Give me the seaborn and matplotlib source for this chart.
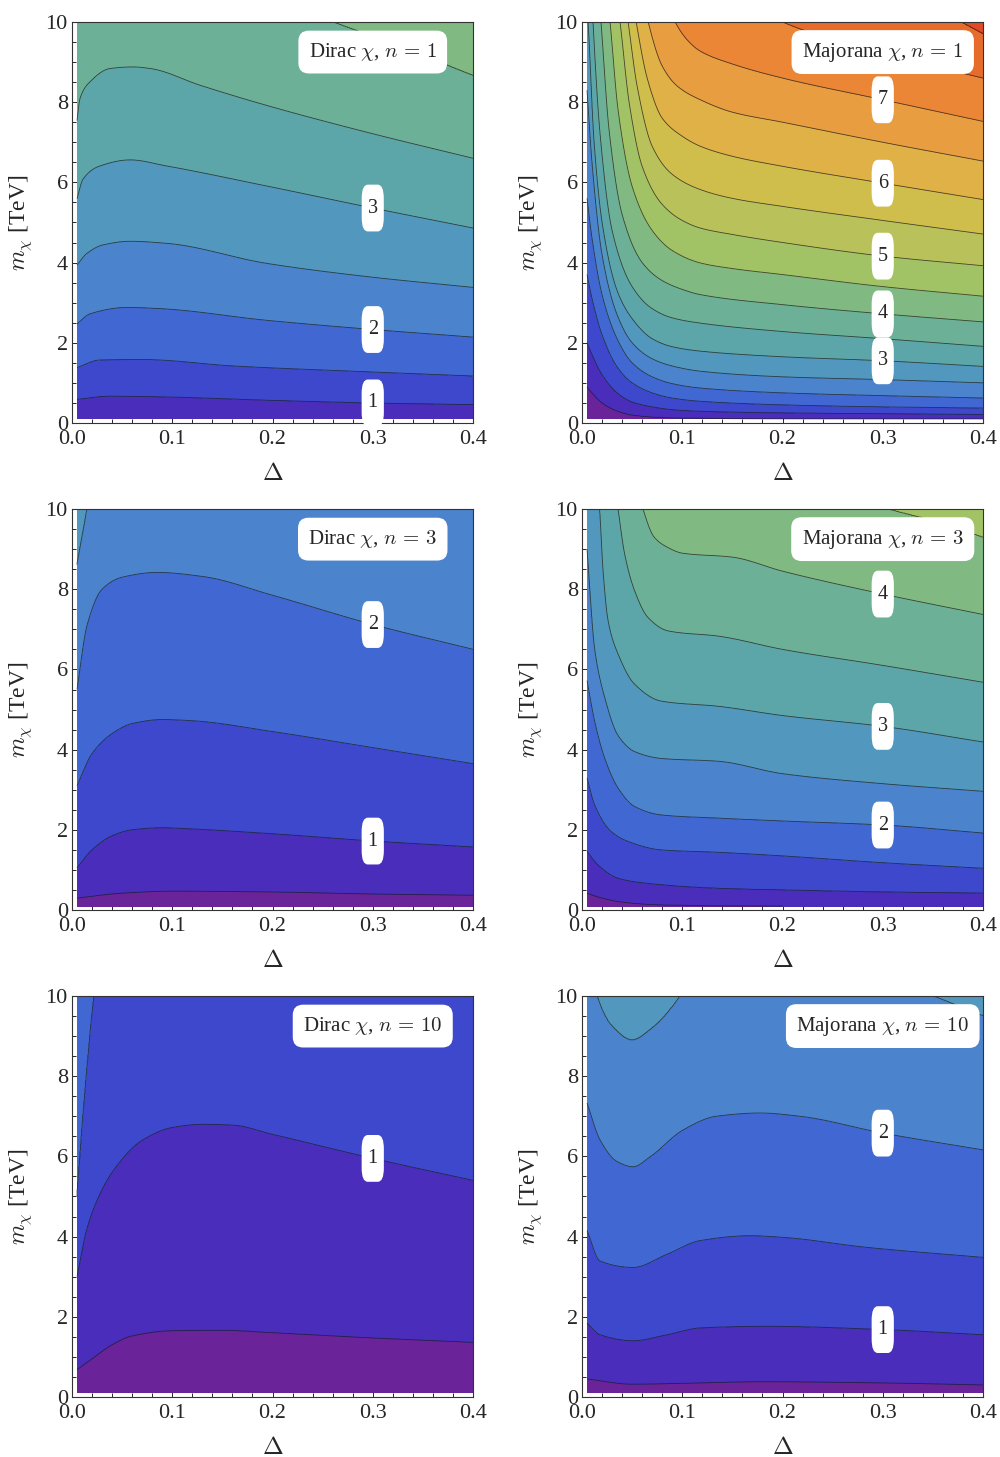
import numpy as np
import matplotlib
matplotlib.use("Agg")
import matplotlib.pyplot as plt
import seaborn as sns

# contour crossings: level -> [(Delta, m_chi [TeV]), ...]
# (m > 10 means the line leaves the frame through the top)
DIRAC_N1 = {
    1.0: [(0.005, 0.59), (0.038, 0.67), (0.094, 0.65), (0.194, 0.57), (0.3, 0.5), (0.4, 0.46)],
    1.5: [(0.005, 1.38), (0.028, 1.57), (0.071, 1.58), (0.161, 1.42), (0.3, 1.27), (0.4, 1.17)],
    2.0: [(0.005, 2.47), (0.018, 2.72), (0.055, 2.88), (0.088, 2.85), (0.194, 2.56), (0.3, 2.33), (0.4, 2.14)],
    2.5: [(0.005, 3.94), (0.015, 4.23), (0.031, 4.44), (0.058, 4.53), (0.094, 4.48), (0.194, 3.98),
          (0.294, 3.65), (0.4, 3.38)],
    3.0: [(0.005, 5.59), (0.011, 6.08), (0.028, 6.41), (0.058, 6.56), (0.094, 6.41), (0.194, 5.91),
          (0.3, 5.36), (0.4, 4.86)],
    3.5: [(0.005, 7.54), (0.008, 8.09), (0.018, 8.51), (0.038, 8.84), (0.061, 8.88), (0.078, 8.84),
          (0.128, 8.42), (0.194, 7.92), (0.294, 7.25), (0.4, 6.6)],
    4.0: [(0.2, 10.6), (0.26, 10.0), (0.32, 9.45), (0.4, 8.66)],
}

MAJORANA_N1 = {
    0.5: [(0.005, 0.9), (0.01, 0.75), (0.02, 0.5), (0.035, 0.3), (0.05, 0.2), (0.08, 0.14), (0.12, 0.12),
          (0.4, 0.1)],
    1.0: [(0.005, 2.0), (0.01, 1.7), (0.02, 1.2), (0.035, 0.75), (0.05, 0.52), (0.07, 0.4), (0.09, 0.33),
          (0.118, 0.29), (0.2, 0.25), (0.3, 0.23), (0.4, 0.21)],
    1.5: [(0.005, 3.7), (0.01, 3.1), (0.02, 2.2), (0.035, 1.4), (0.05, 1.0), (0.07, 0.75), (0.09, 0.62),
          (0.118, 0.54), (0.2, 0.45), (0.3, 0.4), (0.4, 0.37)],
    2.0: [(0.005, 5.6), (0.01, 4.6), (0.02, 3.2), (0.035, 2.1), (0.05, 1.5), (0.07, 1.15), (0.09, 0.98),
          (0.118, 0.87), (0.2, 0.75), (0.3, 0.68), (0.4, 0.62)],
    2.5: [(0.005, 8.3), (0.01, 6.5), (0.02, 4.2), (0.035, 2.7), (0.05, 2.0), (0.07, 1.6), (0.09, 1.42),
          (0.118, 1.29), (0.2, 1.15), (0.3, 1.08), (0.4, 1.0)],
    3.0: [(0.003, 11.0), (0.006, 10.0), (0.012, 7.0), (0.02, 5.0), (0.035, 3.3), (0.05, 2.6), (0.07, 2.1),
          (0.09, 1.9), (0.118, 1.79), (0.2, 1.65), (0.3, 1.55), (0.4, 1.41)],
    3.5: [(0.006, 13.0), (0.011, 10.0), (0.018, 7.2), (0.03, 4.8), (0.05, 3.4), (0.07, 2.85), (0.09, 2.62),
          (0.118, 2.49), (0.2, 2.28), (0.3, 2.1), (0.4, 1.91)],
    4.0: [(0.01, 13.0), (0.019, 10.0), (0.027, 7.3), (0.04, 5.2), (0.06, 4.0), (0.08, 3.55), (0.1, 3.33),
          (0.118, 3.2), (0.2, 2.95), (0.3, 2.72), (0.4, 2.52)],
    4.5: [(0.015, 13.0), (0.028, 10.0), (0.036, 7.8), (0.05, 5.9), (0.07, 4.8), (0.09, 4.3), (0.118, 3.99),
          (0.15, 3.85), (0.2, 3.7), (0.3, 3.4), (0.4, 3.16)],
    5.0: [(0.022, 13.0), (0.038, 10.0), (0.047, 8.0), (0.06, 6.4), (0.08, 5.45), (0.1, 5.05), (0.118, 4.86),
          (0.15, 4.7), (0.2, 4.5), (0.3, 4.16), (0.4, 3.92)],
    5.5: [(0.028, 13.0), (0.046, 10.0), (0.055, 8.4), (0.07, 6.9), (0.09, 6.2), (0.118, 5.82), (0.15, 5.6),
          (0.2, 5.4), (0.3, 5.05), (0.4, 4.71)],
    6.0: [(0.035, 13.0), (0.054, 10.0), (0.065, 8.6), (0.08, 7.6), (0.1, 7.15), (0.118, 6.9), (0.15, 6.65),
          (0.2, 6.4), (0.3, 5.98), (0.4, 5.57)],
    6.5: [(0.045, 13.0), (0.066, 10.0), (0.08, 8.9), (0.095, 8.4), (0.118, 8.06), (0.15, 7.75), (0.2, 7.5),
          (0.3, 7.0), (0.4, 6.53)],
    7.0: [(0.06, 13.0), (0.093, 10.0), (0.105, 9.55), (0.118, 9.27), (0.15, 8.95), (0.2, 8.6), (0.3, 8.06),
          (0.4, 7.52)],
    7.5: [(0.12, 12.0), (0.17, 10.4), (0.2, 10.0), (0.3, 9.2), (0.4, 8.6)],
    8.0: [(0.3, 11.0), (0.37, 10.1), (0.4, 9.7)],
}

DIRAC_N3 = {
    0.5: [(0.005, 0.3), (0.05, 0.42), (0.1, 0.47), (0.2, 0.45), (0.3, 0.4), (0.4, 0.37)],
    1.0: [(0.005, 1.05), (0.02, 1.5), (0.04, 1.85), (0.06, 2.0), (0.09, 2.05), (0.12, 2.02), (0.2, 1.9),
          (0.3, 1.72), (0.4, 1.57)],
    1.5: [(0.005, 3.1), (0.02, 3.9), (0.04, 4.4), (0.06, 4.65), (0.09, 4.75), (0.12, 4.72), (0.2, 4.45),
          (0.3, 4.05), (0.4, 3.65)],
    2.0: [(0.005, 5.5), (0.015, 7.1), (0.03, 8.0), (0.05, 8.3), (0.085, 8.42), (0.13, 8.32), (0.2, 7.85),
          (0.3, 7.12), (0.4, 6.5)],
    2.5: [(0.005, 8.6), (0.015, 10.0), (0.025, 11.5)],
}

MAJORANA_N3 = {
    0.5: [(0.005, 0.42), (0.02, 0.3), (0.04, 0.2), (0.07, 0.14), (0.1, 0.12), (0.2, 0.1), (0.4, 0.09)],
    1.0: [(0.005, 1.46), (0.016, 1.12), (0.036, 0.79), (0.0625, 0.67), (0.136, 0.54), (0.2, 0.5),
          (0.3, 0.45), (0.4, 0.42)],
    1.5: [(0.005, 3.29), (0.0126, 2.62), (0.029, 1.96), (0.046, 1.71), (0.079, 1.5), (0.136, 1.44),
          (0.2, 1.35), (0.3, 1.18), (0.4, 1.04)],
    2.0: [(0.005, 5.72), (0.0126, 4.71), (0.0226, 3.79), (0.036, 3.04), (0.0525, 2.58), (0.079, 2.37),
          (0.136, 2.29), (0.2, 2.22), (0.3, 2.12), (0.4, 1.92)],
    2.5: [(0.005, 9.0), (0.0126, 6.5), (0.0226, 5.3), (0.036, 4.35), (0.0525, 3.95), (0.079, 3.78),
          (0.136, 3.71), (0.2, 3.4), (0.3, 3.15), (0.4, 2.96)],
    3.0: [(0.01, 12.0), (0.0176, 10.0), (0.021, 8.46), (0.026, 7.21), (0.036, 6.38), (0.0525, 5.63),
          (0.079, 5.21), (0.136, 5.08), (0.2, 4.85), (0.3, 4.58), (0.4, 4.19)],
    3.5: [(0.025, 12.0), (0.036, 10.0), (0.0426, 8.87), (0.0525, 7.96), (0.066, 7.29), (0.086, 6.96),
          (0.136, 6.83), (0.2, 6.5), (0.3, 6.1), (0.4, 5.68)],
    4.0: [(0.045, 12.0), (0.061, 10.0), (0.072, 9.3), (0.085, 9.05), (0.1, 8.9), (0.15, 8.8), (0.2, 8.45),
          (0.3, 7.88), (0.4, 7.37)],
    4.5: [(0.2, 11.0), (0.305, 10.0), (0.35, 9.7), (0.4, 9.29)],
}

DIRAC_N10 = {
    0.5: [(0.005, 0.68), (0.02, 0.95), (0.04, 1.3), (0.06, 1.52), (0.1, 1.65), (0.15, 1.66), (0.2, 1.6),
          (0.3, 1.47), (0.4, 1.36)],
    1.0: [(0.005, 3.0), (0.015, 4.2), (0.025, 4.9), (0.04, 5.6), (0.07, 6.4), (0.1, 6.72), (0.13, 6.8),
          (0.16, 6.78), (0.2, 6.55), (0.3, 5.95), (0.4, 5.4)],
    1.5: [(0.005, 5.0), (0.012, 7.3), (0.022, 10.0), (0.03, 11.5)],
}

MAJORANA_N10 = {
    0.5: [(0.005, 0.45), (0.05, 0.32), (0.1, 0.34), (0.18, 0.38), (0.3, 0.35), (0.4, 0.3)],
    1.0: [(0.005, 1.84), (0.018, 1.55), (0.051, 1.4), (0.085, 1.55), (0.118, 1.72), (0.184, 1.76),
          (0.3, 1.68), (0.4, 1.55)],
    1.5: [(0.005, 4.15), (0.018, 3.39), (0.051, 3.23), (0.085, 3.56), (0.118, 3.9), (0.168, 4.02),
          (0.2, 3.98), (0.284, 3.73), (0.4, 3.48)],
    2.0: [(0.005, 7.33), (0.018, 6.41), (0.035, 5.87), (0.051, 5.74), (0.068, 5.99), (0.101, 6.66),
          (0.134, 7.0), (0.178, 7.08), (0.217, 7.0), (0.3, 6.58), (0.4, 6.16)],
    2.5: [(0.005, 11.5), (0.015, 10.0), (0.03, 9.25), (0.05, 8.9), (0.07, 9.2), (0.098, 10.0), (0.12, 11.0),
          (0.2, 11.5), (0.3, 10.5), (0.35, 10.0), (0.4, 9.5)],
}

PANELS = [DIRAC_N1, MAJORANA_N1, DIRAC_N3, MAJORANA_N3, DIRAC_N10, MAJORANA_N10]
TITLES = [r"Dirac $\chi$, $n\,=\,1$", r"Majorana $\chi$, $n\,=\,1$",
          r"Dirac $\chi$, $n\,=\,3$", r"Majorana $\chi$, $n\,=\,3$",
          r"Dirac $\chi$, $n\,=\,10$", r"Majorana $\chi$, $n\,=\,10$"]
LABELED = [[1, 2, 3], [3, 4, 5, 6, 7], [1, 2], [2, 3, 4], [1], [1, 2]]
LABEL_DELTA = 0.3

# one fill colour per 0.5-wide band, from 0 up to 8.5
LEVELS = np.arange(0, 8.51, 0.5)
BAND_COLORS = ["#6a2399", "#4b2dbc", "#3d48cc", "#4168d2", "#4b83cd", "#5297be", "#5ca6aa",
               "#6cb097", "#80b982", "#a2c266", "#b9c25a", "#cfbd4c", "#dfb146", "#e89e40",
               "#eb8636", "#e76c2c", "#e04a26"]

DELTA_GRID = np.linspace(0.005, 0.4, 700)
M_GRID = np.linspace(0.1, 10, 500)


def pchip(x, y, xn):
    x = np.asarray(x, float)
    y = np.asarray(y, float)
    xn = np.clip(np.asarray(xn, float), x[0], x[-1])
    h = np.diff(x)
    d = np.diff(y) / h
    s = np.zeros_like(x)
    s[0], s[-1] = d[0], d[-1]
    for k in range(1, len(x) - 1):
        if d[k - 1] * d[k] > 0:
            w1, w2 = 2 * h[k] + h[k - 1], h[k] + 2 * h[k - 1]
            s[k] = (w1 + w2) / (w1 / d[k - 1] + w2 / d[k])
    i = np.clip(np.searchsorted(x, xn) - 1, 0, len(x) - 2)
    t = (xn - x[i]) / h[i]
    return ((2 * t**3 - 3 * t**2 + 1) * y[i] + (t**3 - 2 * t**2 + t) * h[i] * s[i]
            + (-2 * t**3 + 3 * t**2) * y[i + 1] + (t**3 - t**2) * h[i] * s[i + 1])


def build_field(curves):
    lv = np.array(sorted(curves))
    H = np.array([pchip(*zip(*curves[l]), DELTA_GRID) for l in lv])
    H = np.maximum.accumulate(H, axis=0) + np.arange(len(lv))[:, None] * 1e-4
    Z = np.empty((len(M_GRID), len(DELTA_GRID)))
    for j in range(len(DELTA_GRID)):
        xp = np.r_[-1.0, H[:, j], 100.0]
        fp = np.r_[lv[0] - 0.5, lv, lv[-1] + 0.5]
        Z[:, j] = np.interp(M_GRID, xp, fp)
    return lv, Z


sns.set_style("ticks")
plt.rcParams["font.family"] = ["Liberation Serif", "DejaVu Serif"]
plt.rcParams["mathtext.fontset"] = "cm"

fig = plt.figure(figsize=(10, 14.57), dpi=100)
lefts = [0.072, 0.582]
bottoms = [0.7097, 0.3754, 0.0412]

for k, curves in enumerate(PANELS):
    ax = fig.add_axes([lefts[k % 2], bottoms[k // 2], 0.401, 0.2752])
    lv, Z = build_field(curves)
    ax.contourf(DELTA_GRID, M_GRID, Z, levels=LEVELS, colors=BAND_COLORS)
    ax.contour(DELTA_GRID, M_GRID, Z, levels=lv, colors="#1a1a1a", linewidths=0.6, alpha=0.75)

    for lab in LABELED[k]:
        y = float(pchip(*zip(*curves[float(lab)]), LABEL_DELTA))
        t = ax.text(LABEL_DELTA, y, str(lab), ha="center", va="center", fontsize=14.5,
                    bbox=dict(boxstyle="round,pad=0.3", fc="white", ec="none"))
        t.get_bbox_patch().set_mutation_aspect(2.3)

    ax.text(0.75, 0.925, TITLES[k], transform=ax.transAxes, ha="center", va="center", fontsize=15,
            bbox=dict(boxstyle="round,pad=0.5", fc="white", ec="none"))

    ax.set_xlim(0, 0.4)
    ax.set_ylim(0, 10)
    ax.set_xticks([0, 0.1, 0.2, 0.3, 0.4])
    ax.set_xticklabels(["0.0", "0.1", "0.2", "0.3", "0.4"])
    ax.set_xticks(np.arange(0, 0.401, 0.02), minor=True)
    ax.set_yticks([0, 2, 4, 6, 8, 10])
    ax.set_yticks(np.arange(0, 10.01, 0.5), minor=True)
    ax.tick_params(which="both", direction="in", top=True, right=True, labelsize=16, width=0.7)
    ax.tick_params(axis="x", pad=5)
    ax.tick_params(axis="y", pad=3)
    ax.tick_params(which="major", length=6)
    ax.tick_params(which="minor", length=3)
    for sp in ax.spines.values():
        sp.set_linewidth(0.8)
        sp.set_color("#333333")
    ax.set_xlabel(r"$\Delta$", fontsize=18, labelpad=10)
    ax.set_ylabel(r"$m_\chi$ [TeV]", fontsize=17, labelpad=8)

fig.savefig("out.png", dpi=100)
